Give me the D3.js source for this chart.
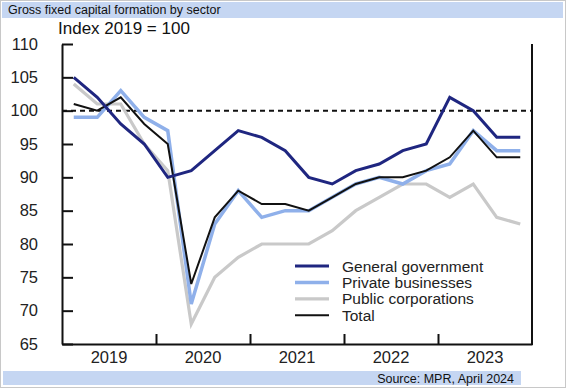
<!DOCTYPE html>
<html>
<head>
<meta charset="utf-8">
<script src="https://cdn.jsdelivr.net/npm/d3@7"></script>
<style>
  body { margin: 0; background: #fff; }
  svg { display: block; font-family: "Liberation Sans", Arial, sans-serif; }
</style>
</head>
<body>
<svg id="chart" width="566" height="388"></svg>
<script>
'use strict'

// quarterly, 2019Q1 .. 2023Q4
const quarters = d3.range(20).map(i => 2019 + (i + 0.5) / 4)
const years = [2019, 2020, 2021, 2022, 2023]
const yTicks = [65, 70, 75, 80, 85, 90, 95, 100, 105, 110]

const generalGovernment = [105, 102, 98, 95, 90, 91, 94, 97, 96, 94, 90, 89, 91, 92, 94, 95, 102, 100, 96, 96]
const privateBusinesses = [99, 99, 103, 99, 97, 71, 83, 88, 84, 85, 85, 87, 89, 90, 89, 91, 92, 97, 94, 94]
const publicCorporations = [104, 101, 101, 95, 91, 68, 75, 78, 80, 80, 80, 82, 85, 87, 89, 89, 87, 89, 84, 83]
const total = [101, 100, 102, 98, 95, 74, 84, 88, 86, 86, 85, 87, 89, 90, 90, 91, 93, 97, 93, 93]

const series = [
    { name: 'Public corporations', values: publicCorporations, color: '#c9c9c9', width: 3.2 },
    { name: 'Private businesses', values: privateBusinesses, color: '#8fb0ea', width: 3.5 },
    { name: 'Total', values: total, color: '#111111', width: 2 },
    { name: 'General government', values: generalGovernment, color: '#1f2680', width: 3 }
]
const legendOrder = ['General government', 'Private businesses', 'Public corporations', 'Total']

const svg = d3.select('#chart')

svg.append('rect').attr('x', 0.5).attr('y', 0.5).attr('width', 565).attr('height', 387)
    .attr('fill', 'none').attr('stroke', '#c8c8c8')

// header and footer bands
svg.append('rect').attr('x', 2).attr('y', 2).attr('width', 561).attr('height', 16).attr('fill', '#c5d6f2')
svg.append('text').attr('x', 8).attr('y', 14).attr('font-size', 12.5).attr('fill', '#111')
    .text('Gross fixed capital formation by sector')

svg.append('rect').attr('x', 3).attr('y', 371).attr('width', 518).attr('height', 14).attr('fill', '#c5d6f2')
svg.append('text').attr('x', 514).attr('y', 382.5).attr('font-size', 12.5).attr('text-anchor', 'end').attr('fill', '#111')
    .text('Source: MPR, April 2024')

let x = d3.scaleLinear().domain([2019, 2024]).range([62, 532])
let y = d3.scaleLinear().domain([65, 110]).range([344, 44])

svg.append('text').attr('x', 58).attr('y', 34).attr('font-size', 17).attr('fill', '#111')
    .text('Index 2019 = 100')

// y axis, ticks pointing inward
let yAxis = svg.append('g').attr('transform', `translate(${x.range()[0]},0)`)
    .call(d3.axisLeft(y).tickValues(yTicks).tickSize(-11).tickPadding(24).tickSizeOuter(0))
yAxis.select('.domain').attr('stroke', '#111').attr('stroke-width', 2)
yAxis.selectAll('.tick line').attr('stroke', '#111').attr('stroke-width', 2)
yAxis.selectAll('.tick text').attr('font-size', 16.5).attr('fill', '#222').attr('font-family', null)

// x axis, year boundaries as ticks
let xAxis = svg.append('g').attr('transform', `translate(0,${y.range()[0]})`)
    .call(d3.axisBottom(x).tickValues([2020, 2021, 2022, 2023]).tickSize(-10).tickFormat('').tickSizeOuter(0))
xAxis.select('.domain').attr('stroke', '#111').attr('stroke-width', 2)
xAxis.selectAll('.tick line').attr('stroke', '#111').attr('stroke-width', 2)

svg.append('g').selectAll('text').data(years).enter().append('text')
    .attr('x', d => x(d + 0.5)).attr('y', 363).attr('text-anchor', 'middle')
    .attr('font-size', 16.5).attr('fill', '#222').text(d => d)

// right frame
svg.append('line').attr('x1', x.range()[1]).attr('x2', x.range()[1]).attr('y1', y.range()[1]).attr('y2', y.range()[0] + 1)
    .attr('stroke', '#111').attr('stroke-width', 2)

// reference line
svg.append('line').attr('x1', x.range()[0]).attr('x2', x.range()[1]).attr('y1', y(100)).attr('y2', y(100))
    .attr('stroke', '#111').attr('stroke-width', 2).attr('stroke-dasharray', '5,4')

let line = d3.line().x((d, i) => x(quarters[i])).y(d => y(d))

svg.append('g').selectAll('path').data(series).enter().append('path')
    .attr('d', d => line(d.values))
    .attr('fill', 'none')
    .attr('stroke', d => d.color)
    .attr('stroke-width', d => d.width)
    .attr('stroke-linejoin', 'miter')

let legend = svg.append('g').selectAll('g')
    .data(legendOrder.map(n => series.find(s => s.name === n)))
    .enter().append('g')
    .attr('transform', (d, i) => `translate(295, ${266 + i * 16.4})`)

legend.append('line').attr('x1', 0).attr('x2', 34).attr('y1', 0).attr('y2', 0)
    .attr('stroke', d => d.color).attr('stroke-width', d => d.width)

legend.append('text').attr('x', 47).attr('y', 5.5).attr('font-size', 15.5).attr('fill', '#222')
    .text(d => d.name)
</script>
</body>
</html>
